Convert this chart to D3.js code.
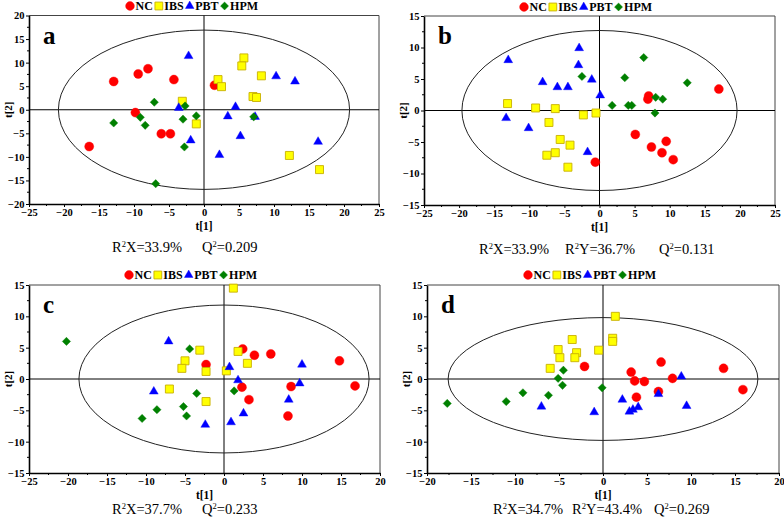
<!DOCTYPE html>
<html>
<head>
<meta charset="utf-8">
<script src="https://cdn.jsdelivr.net/npm/d3@7"></script>
<style>
    body { margin: 0; background: #fff; }
    svg { display: block; font-family: "Liberation Serif", "Times New Roman", serif; }
    svg text { font-family: "Liberation Serif", "Times New Roman", serif; }
</style>
</head>
<body>
<svg id="fig" width="784" height="524"></svg>
<script>
// score values, [t1, t2]
const groups = ["NC", "IBS", "PBT", "HPM"];

const aNC = [[-12.9, 6.0], [-9.4, 7.6], [-8.0, 8.7], [-4.3, 6.4], [1.5, 5.2], [-9.8, -0.6], [-6.1, -5.1], [-4.8, -5.1], [-16.4, -7.8]];
const aIBS = [[5.7, 11.0], [5.4, 9.3], [2.0, 6.4], [2.5, 4.9], [8.2, 7.2], [7.0, 2.8], [7.5, 2.6], [-3.1, 1.8], [-1.1, -3.0], [12.2, -9.7], [16.5, -12.7]];
const aPBT = [[-2.2, 11.4], [-3.6, 0.4], [4.5, 0.6], [3.4, -1.4], [7.3, -1.5], [5.2, -5.6], [-1.9, -6.5], [2.2, -9.6], [10.3, 7.1], [13.0, 6.0], [16.3, -6.8]];
const aHPM = [[-7.1, 1.6], [-2.7, 0.8], [-12.9, -2.8], [-9.1, -1.6], [-8.4, -3.3], [-3.0, -2.0], [-1.1, -1.3], [-2.8, -7.9], [7.1, -1.5], [-6.9, -15.7]];

const bNC = [[17.0, 3.4], [7.0, 2.3], [6.9, 1.8], [5.1, -3.8], [7.4, -5.8], [9.5, -4.9], [8.9, -6.7], [10.5, -7.8], [-0.6, -8.2]];
const bIBS = [[-13.1, 1.1], [-9.1, 0.4], [-6.3, 0.3], [-2.3, -0.7], [-0.5, -0.4], [-7.2, -1.9], [-5.6, -4.6], [-4.2, -5.5], [-6.3, -6.7], [-7.5, -7.1], [-4.5, -9.0]];
const bPBT = [[-13.0, 8.0], [-2.9, 9.9], [-3.0, 7.2], [-8.1, 4.5], [-6.0, 3.7], [-4.5, 3.7], [-1.1, 4.9], [0.1, 2.4], [-13.3, -1.2], [-10.1, -2.8], [-1.7, -6.6]];
const bHPM = [[6.3, 8.4], [3.6, 5.2], [-2.5, 5.4], [12.5, 4.4], [8.0, 2.1], [9.0, 1.8], [1.8, 0.8], [4.1, 0.8], [4.6, 0.8], [7.9, -0.4]];

const cNC = [[2.4, 4.8], [3.9, 3.8], [6.0, 4.0], [-2.3, 2.3], [2.3, -1.3], [3.2, -3.3], [8.6, -1.2], [8.2, -5.9], [14.8, 2.9], [16.8, -1.1]];
const cIBS = [[1.2, 14.5], [-3.1, 4.6], [1.8, 4.4], [-5.0, 2.9], [-5.4, 1.7], [-2.3, 1.2], [3.0, 2.5], [0.3, 1.3], [-7.0, -1.6], [-2.3, -3.6]];
const cPBT = [[-7.1, 6.0], [0.7, 1.9], [1.8, -0.2], [-9.0, -2.0], [10.0, 2.3], [9.7, -0.7], [8.3, -3.3], [2.5, -5.5], [0.9, -6.9], [-2.4, -7.3]];
const cHPM = [[-20.2, 6.0], [-4.4, 4.8], [-3.5, -2.3], [1.3, -1.9], [-5.2, -4.4], [-8.6, -4.9], [-4.8, -5.9], [-10.5, -6.3]];

const dNC = [[-2.1, 2.0], [3.2, 1.1], [6.6, 2.7], [3.6, -0.3], [4.7, -0.4], [7.9, 0.1], [6.3, -2.0], [3.8, -2.9], [13.7, 1.7], [15.9, -1.7]];
const dIBS = [[1.4, 10.0], [1.1, 6.5], [1.1, 6.0], [-3.5, 6.3], [-0.5, 4.6], [-5.1, 4.7], [-3.0, 4.2], [-4.9, 3.4], [-3.2, 3.4], [-6.0, 1.7]];
const dPBT = [[8.9, 0.4], [9.5, -4.3], [6.3, -2.4], [2.2, -3.3], [4.0, -4.5], [3.4, -4.9], [3.0, -5.2], [-1.0, -5.3], [-7.0, -4.4]];
const dHPM = [[-4.5, 1.4], [-5.1, 0.1], [-4.6, -1.0], [-0.1, -1.4], [-9.1, -2.2], [-6.2, -2.6], [-11.0, -3.6], [-17.7, -3.9]];

// Hotelling T2 ellipse half-axes [t1, t2]
const ellA = [20.8, 16.9];
const ellB = [19.6, 12.7];
const ellC = [18.6, 11.8];
const ellD = [17.6, 9.8];

const statsA = ["R²X=33.9%", "Q²=0.209"];
const statsB = ["R²X=33.9%", "R²Y=36.7%", "Q²=0.131"];
const statsC = ["R²X=37.7%", "Q²=0.233"];
const statsD = ["R²X=34.7%", "R²Y=43.4%", "Q²=0.269"];

const colors = { NC: "#ff0000", IBS: "#ffff00", PBT: "#0000ff", HPM: "#008000" };
const strokes = { NC: "#ff0000", IBS: "#c8b000", PBT: "#0000ff", HPM: "#008000" };

const panels = [
    { letter: "a", data: [aNC, aIBS, aPBT, aHPM], xd: [-25, 25], yd: [-20, 20], box: [29, 15.5, 379, 204], ell: ellA, stats: statsA, statX: [112, 202], statY: 252, legX: 130, legY: 6 },
    { letter: "b", data: [bNC, bIBS, bPBT, bHPM], xd: [-25, 25], yd: [-15, 15], box: [424, 16, 775, 205], ell: ellB, stats: statsB, statX: [479, 565, 659], statY: 254, legX: 524, legY: 7 },
    { letter: "c", data: [cNC, cIBS, cPBT, cHPM], xd: [-25, 20], yd: [-15, 15], box: [29, 285, 380, 473], ell: ellC, stats: statsC, statX: [112, 202], statY: 514, legX: 129, legY: 275 },
    { letter: "d", data: [dNC, dIBS, dPBT, dHPM], xd: [-20, 20], yd: [-15, 15], box: [427, 285, 779, 473], ell: ellD, stats: statsD, statX: [493, 572, 654], statY: 514, legX: 528, legY: 275 },
];

const svg = d3.select("#fig");
const serif = "'Liberation Serif', 'Times New Roman', serif";

function symbolPath(g, scale) {
    const k = scale || 1;
    if (g === "NC") return d3.symbol().type(d3.symbolCircle).size(64 * k)();
    if (g === "IBS") return d3.symbol().type(d3.symbolSquare).size(64 * k)();
    if (g === "PBT") return d3.symbol().type(d3.symbolTriangle).size(34 * k)();
    return d3.symbol().type(d3.symbolSquare).size(34 * k)();
}

function drawMark(sel, g, scale) {
    sel.append("path")
        .attr("d", symbolPath(g, scale))
        .attr("fill", colors[g])
        .attr("stroke", strokes[g])
        .attr("stroke-width", g === "IBS" ? 0.9 : 0.4)
        .attr("transform", g === "HPM" ? "rotate(45)" : null);
}

panels.forEach((p) => {
    const [x0, y0, x1, y1] = p.box;
    const x = d3.scaleLinear().domain(p.xd).range([x0, x1]);
    const y = d3.scaleLinear().domain(p.yd).range([y1, y0]);
    const g = svg.append("g");

    // frame top/right
    g.append("path")
        .attr("d", `M${x0},${y0}H${x1}V${y1}`)
        .attr("fill", "none")
        .attr("stroke", "#444")
        .attr("stroke-width", 1);

    // zero lines
    g.append("line").attr("x1", x(0)).attr("x2", x(0)).attr("y1", y0).attr("y2", y1)
        .attr("stroke", "#000").attr("stroke-width", 1);
    g.append("line").attr("x1", x0).attr("x2", x1).attr("y1", y(0)).attr("y2", y(0))
        .attr("stroke", "#000").attr("stroke-width", 1);

    // ellipse
    g.append("ellipse")
        .attr("cx", x(0)).attr("cy", y(0))
        .attr("rx", x(p.ell[0]) - x(0))
        .attr("ry", y(0) - y(p.ell[1]))
        .attr("fill", "none")
        .attr("stroke", "#222")
        .attr("stroke-width", 1);

    // axes
    const xMajor = d3.range(p.xd[0], p.xd[1] + 0.1, 5);
    const yMajor = d3.range(p.yd[0], p.yd[1] + 0.1, 5);
    const xMinor = d3.range(p.xd[0] + 2.5, p.xd[1], 5);
    const yMinor = d3.range(p.yd[0] + 2.5, p.yd[1], 5);

    const xa = g.append("g").attr("transform", `translate(0,${y1})`)
        .call(d3.axisBottom(x).tickValues(xMajor).tickSize(3).tickSizeOuter(0).tickPadding(2));
    xa.selectAll(".minor").data(xMinor).enter().append("line")
        .attr("x1", (d) => x(d)).attr("x2", (d) => x(d)).attr("y1", 0).attr("y2", 2)
        .attr("stroke", "#000");

    const ya = g.append("g").attr("transform", `translate(${x0},0)`)
        .call(d3.axisLeft(y).tickValues(yMajor).tickSize(3).tickSizeOuter(0).tickPadding(1.5));
    ya.selectAll(".minor").data(yMinor).enter().append("line")
        .attr("y1", (d) => y(d)).attr("y2", (d) => y(d)).attr("x1", 0).attr("x2", -2)
        .attr("stroke", "#000");

    [xa, ya].forEach((a) => {
        a.attr("font-family", null).attr("font-size", null);
        a.select(".domain").attr("stroke", "#000").attr("stroke-width", 1.6);
        a.selectAll("text")
            .style("font-family", serif)
            .style("font-weight", "bold")
            .style("font-size", "10.5px")
            .attr("fill", "#000");
    });

    // axis titles
    g.append("text")
        .attr("x", (x0 + x1) / 2).attr("y", y1 + 26)
        .attr("text-anchor", "middle")
        .attr("font-weight", "bold").attr("font-size", 11.5)
        .text("t[1]");
    g.append("text")
        .attr("transform", `translate(${x0 - 17.5},${(y0 + y1) / 2}) rotate(-90)`)
        .attr("text-anchor", "middle")
        .attr("font-weight", "bold").attr("font-size", 11)
        .text("t[2]");

    // panel letter
    g.append("text")
        .attr("x", x0 + 14).attr("y", y0 + 28)
        .attr("font-weight", "bold").attr("font-size", 25)
        .text(p.letter);

    // points
    groups.forEach((name, i) => {
        g.append("g").selectAll("g")
            .data(p.data[i])
            .enter()
            .append("g")
            .attr("transform", (d) => `translate(${x(d[0])},${y(d[1])})`)
            .each(function () { drawMark(d3.select(this), name, 1); });
    });

    // legend
    const leg = g.append("g").attr("transform", `translate(${p.legX},${p.legY})`);
    let cx = 0;
    groups.forEach((name) => {
        const m = leg.append("g").attr("transform", `translate(${cx},0)`);
        drawMark(m, name, 0.95);
        const t = leg.append("text")
            .attr("x", cx + 5.5).attr("y", 4.2)
            .attr("font-weight", "bold").attr("font-size", 12)
            .text(name);
        cx += 5.5 + t.node().getComputedTextLength() + 6;
    });

    // model statistics
    p.stats.forEach((s, i) => {
        const parts = s.split("²");
        const t = g.append("text")
            .attr("x", p.statX[i]).attr("y", p.statY)
            .attr("font-size", 14.5);
        t.append("tspan").text(parts[0]);
        t.append("tspan").attr("dy", -5.5).attr("font-size", 8.5).text("2");
        t.append("tspan").attr("dy", 5.5).text(parts[1]);
    });
});
</script>
</body>
</html>
